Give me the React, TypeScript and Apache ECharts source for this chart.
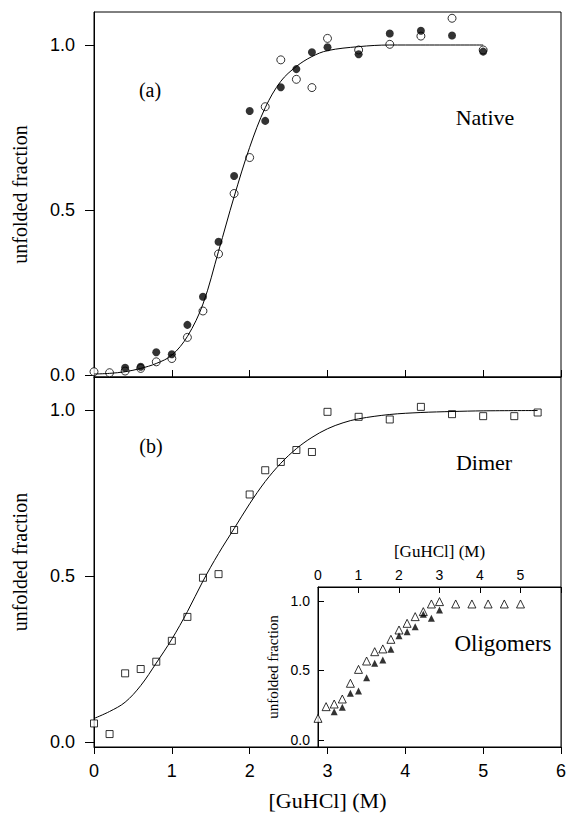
import React, { useEffect, useRef } from "react";
import * as echarts from "echarts";

// ---- Panel (a) Native ----
const nativeOpen: number[][] = [
  [0, 0.01], [0.2, 0.007], [0.4, 0.012], [0.6, 0.02], [0.8, 0.04], [1.0, 0.05],
  [1.2, 0.114], [1.4, 0.194], [1.6, 0.367], [1.8, 0.55], [2.0, 0.659], [2.2, 0.813],
  [2.4, 0.955], [2.6, 0.896], [2.8, 0.871], [3.0, 1.02], [3.4, 0.985], [3.8, 1.002],
  [4.2, 1.027], [4.6, 1.081], [5.0, 0.985],
];
const nativeFilled: number[][] = [
  [0.4, 0.022], [0.6, 0.025], [0.8, 0.069], [1.0, 0.063], [1.2, 0.152], [1.4, 0.237],
  [1.6, 0.404], [1.8, 0.603], [2.0, 0.8], [2.2, 0.77], [2.4, 0.872], [2.6, 0.927],
  [2.8, 0.978], [3.0, 0.993], [3.4, 0.972], [3.8, 1.035], [4.2, 1.043], [4.6, 1.029],
  [5.0, 0.98],
];
const nativeFit: number[][] = [
  [0, 0.003], [0.2, 0.005], [0.4, 0.01], [0.6, 0.02], [0.8, 0.035], [1.0, 0.06],
  [1.2, 0.117], [1.4, 0.215], [1.6, 0.375], [1.8, 0.54], [2.0, 0.69], [2.2, 0.81],
  [2.4, 0.89], [2.6, 0.935], [2.8, 0.965], [3.0, 0.983], [3.4, 0.995], [3.8, 1.0],
  [4.2, 1.0], [5.0, 1.0],
];

// ---- Panel (b) Dimer ----
const dimerPts: number[][] = [
  [0, 0.056], [0.2, 0.024], [0.4, 0.207], [0.6, 0.22], [0.8, 0.242], [1.0, 0.305],
  [1.2, 0.377], [1.4, 0.495], [1.6, 0.506], [1.8, 0.639], [2.0, 0.746], [2.2, 0.819],
  [2.4, 0.844], [2.6, 0.88], [2.8, 0.874], [3.0, 0.995], [3.4, 0.98], [3.8, 0.972],
  [4.2, 1.01], [4.6, 0.988], [5.0, 0.982], [5.4, 0.982], [5.7, 0.993],
];
const dimerFit: number[][] = [
  [0, 0.071], [0.2, 0.092], [0.4, 0.12], [0.6, 0.17], [0.8, 0.238], [1.0, 0.31],
  [1.2, 0.393], [1.4, 0.485], [1.6, 0.568], [1.8, 0.643], [2.0, 0.718], [2.2, 0.785],
  [2.4, 0.84], [2.6, 0.884], [2.8, 0.918], [3.0, 0.944], [3.2, 0.962], [3.4, 0.974],
  [3.8, 0.987], [4.2, 0.993], [4.6, 0.996], [5.0, 0.998], [5.7, 0.999],
];

// ---- Inset Oligomers ----
const oligoOpen: number[][] = [
  [0, 0.156], [0.2, 0.24], [0.4, 0.259], [0.6, 0.295], [0.8, 0.408], [1.0, 0.508],
  [1.2, 0.568], [1.4, 0.635], [1.6, 0.655], [1.8, 0.724], [2.0, 0.791], [2.2, 0.839],
  [2.4, 0.887], [2.6, 0.923], [2.8, 0.978], [3.0, 0.995], [3.4, 0.978], [3.8, 0.978],
  [4.2, 0.978], [4.6, 0.978], [5.0, 0.978],
];
const oligoFilled: number[][] = [
  [0.4, 0.204], [0.6, 0.235], [0.8, 0.336], [1.0, 0.353], [1.2, 0.448], [1.4, 0.552],
  [1.6, 0.576], [1.8, 0.652], [2.0, 0.75], [2.2, 0.779], [2.4, 0.815], [2.6, 0.904],
  [2.8, 0.875], [3.0, 0.935],
];

const yTickValues = [0, 0.5, 1.0];
const insetXLabels = [0, 1, 2, 3, 4, 5];

const SANS = "'Liberation Sans', Arial, Helvetica, sans-serif";
const SERIF = "'Liberation Serif', 'Times New Roman', serif";
const BLACK = "#000";

export default function App() {
  const ref = useRef<HTMLDivElement>(null);
  useEffect(() => {
    if (!ref.current) return;
    const chart = echarts.init(ref.current, null, { renderer: "svg" });
    const line = { color: BLACK, width: 1 };
    const fmt = (v: number) => Number(v).toFixed(1);
    const mainYAxis = (gridIndex: number, min: number) => ({
      gridIndex,
      type: "value",
      min,
      max: 1.1,
      axisLine: { show: true, onZero: false, lineStyle: line },
      axisTick: { show: true, customValues: yTickValues, length: 9, lineStyle: line },
      axisLabel: {
        customValues: yTickValues,
        formatter: fmt,
        fontFamily: SANS,
        fontSize: 18,
        color: BLACK,
        margin: 19,
      },
      splitLine: { show: false },
      name: "unfolded fraction",
      nameLocation: "middle",
      nameGap: 64,
      nameTextStyle: { fontFamily: SERIF, fontSize: 20, color: BLACK },
    });
    const option: any = {
      animation: false,
      backgroundColor: "#fff",
      grid: [
        { left: 94, top: 12, width: 467, height: 365, show: true, borderColor: BLACK, borderWidth: 1, backgroundColor: "transparent" },
        { left: 94, top: 377, width: 467, height: 370, show: true, borderColor: BLACK, borderWidth: 1, backgroundColor: "transparent" },
        { left: 318, top: 587, width: 243, height: 160, show: true, borderColor: BLACK, borderWidth: 1, backgroundColor: "#fff" },
      ],
      xAxis: [
        {
          gridIndex: 0, type: "value", min: 0, max: 6, interval: 1,
          axisLine: { show: true, onZero: false, lineStyle: line },
          axisTick: { show: true, inside: true, length: 7, lineStyle: line },
          axisLabel: { show: false },
          splitLine: { show: false },
        },
        {
          gridIndex: 1, type: "value", min: 0, max: 6, interval: 1,
          axisLine: { show: true, onZero: false, lineStyle: line },
          axisTick: { show: true, inside: false, length: 7, lineStyle: line },
          axisLabel: { fontFamily: SANS, fontSize: 18, color: BLACK, margin: 15 },
          splitLine: { show: false },
          name: "[GuHCl] (M)",
          nameLocation: "middle",
          nameGap: 42,
          nameTextStyle: { fontFamily: SERIF, fontSize: 22, color: BLACK },
        },
        {
          gridIndex: 2, type: "value", position: "top", min: 0, max: 6, interval: 1,
          axisLine: { show: true, onZero: false, lineStyle: line },
          axisTick: { show: true, inside: true, length: 6, lineStyle: line },
          axisLabel: { customValues: insetXLabels, fontFamily: SANS, fontSize: 14, color: BLACK, margin: 5 },
          splitLine: { show: false },
          name: "[GuHCl] (M)",
          nameLocation: "middle",
          nameGap: 27,
          nameTextStyle: { fontFamily: SERIF, fontSize: 17, color: BLACK },
        },
      ],
      yAxis: [
        mainYAxis(0, -0.006),
        mainYAxis(1, -0.015),
        {
          gridIndex: 2, type: "value", min: -0.05, max: 1.1,
          axisLine: { show: true, onZero: false, lineStyle: line },
          axisTick: { show: true, inside: true, customValues: yTickValues, length: 6, lineStyle: line },
          axisLabel: { customValues: yTickValues, formatter: fmt, fontFamily: SANS, fontSize: 14, color: BLACK, margin: 8 },
          splitLine: { show: false },
          name: "unfolded fraction",
          nameLocation: "middle",
          nameGap: 38,
          nameTextStyle: { fontFamily: SERIF, fontSize: 15, color: BLACK },
        },
      ],
      series: [
        {
          type: "line", xAxisIndex: 0, yAxisIndex: 0, data: nativeFit,
          smooth: 0.35, showSymbol: false, lineStyle: line, silent: true,
        },
        {
          type: "scatter", xAxisIndex: 0, yAxisIndex: 0, data: nativeOpen,
          symbol: "circle", symbolSize: 8,
          itemStyle: { color: "#fff", borderColor: BLACK, borderWidth: 1 },
        },
        {
          type: "scatter", xAxisIndex: 0, yAxisIndex: 0, data: nativeFilled,
          symbol: "circle", symbolSize: 8, itemStyle: { color: BLACK },
        },
        {
          type: "line", xAxisIndex: 1, yAxisIndex: 1, data: dimerFit,
          smooth: 0.35, showSymbol: false, lineStyle: line, silent: true,
        },
        {
          type: "scatter", xAxisIndex: 1, yAxisIndex: 1, data: dimerPts,
          symbol: "rect", symbolSize: 7,
          itemStyle: { color: "#fff", borderColor: BLACK, borderWidth: 1 },
        },
        {
          type: "scatter", xAxisIndex: 2, yAxisIndex: 2, data: oligoOpen,
          symbol: "triangle", symbolSize: 8,
          itemStyle: { color: "#fff", borderColor: BLACK, borderWidth: 1 },
        },
        {
          type: "scatter", xAxisIndex: 2, yAxisIndex: 2, data: oligoFilled,
          symbol: "triangle", symbolSize: 7, itemStyle: { color: BLACK },
        },
      ],
      graphic: [
        { type: "text", x: 150, y: 90, style: { text: "(a)", fontFamily: SERIF, fontSize: 20, fill: BLACK, align: "center", verticalAlign: "middle" } },
        { type: "text", x: 485, y: 117, style: { text: "Native", fontFamily: SERIF, fontSize: 22, fill: BLACK, align: "center", verticalAlign: "middle" } },
        { type: "text", x: 151, y: 446, style: { text: "(b)", fontFamily: SERIF, fontSize: 20, fill: BLACK, align: "center", verticalAlign: "middle" } },
        { type: "text", x: 484, y: 462, style: { text: "Dimer", fontFamily: SERIF, fontSize: 22, fill: BLACK, align: "center", verticalAlign: "middle" } },
        { type: "text", x: 503, y: 643, z: 100, style: { text: "Oligomers", fontFamily: SERIF, fontSize: 23, fill: BLACK, align: "center", verticalAlign: "middle" } },
      ],
    };
    chart.setOption(option);
    return () => chart.dispose();
  }, []);
  return (
    <div
      ref={ref}
      style={{ position: "fixed", left: 0, top: 0, width: 569, height: 825, background: "#fff" }}
    />
  );
}
